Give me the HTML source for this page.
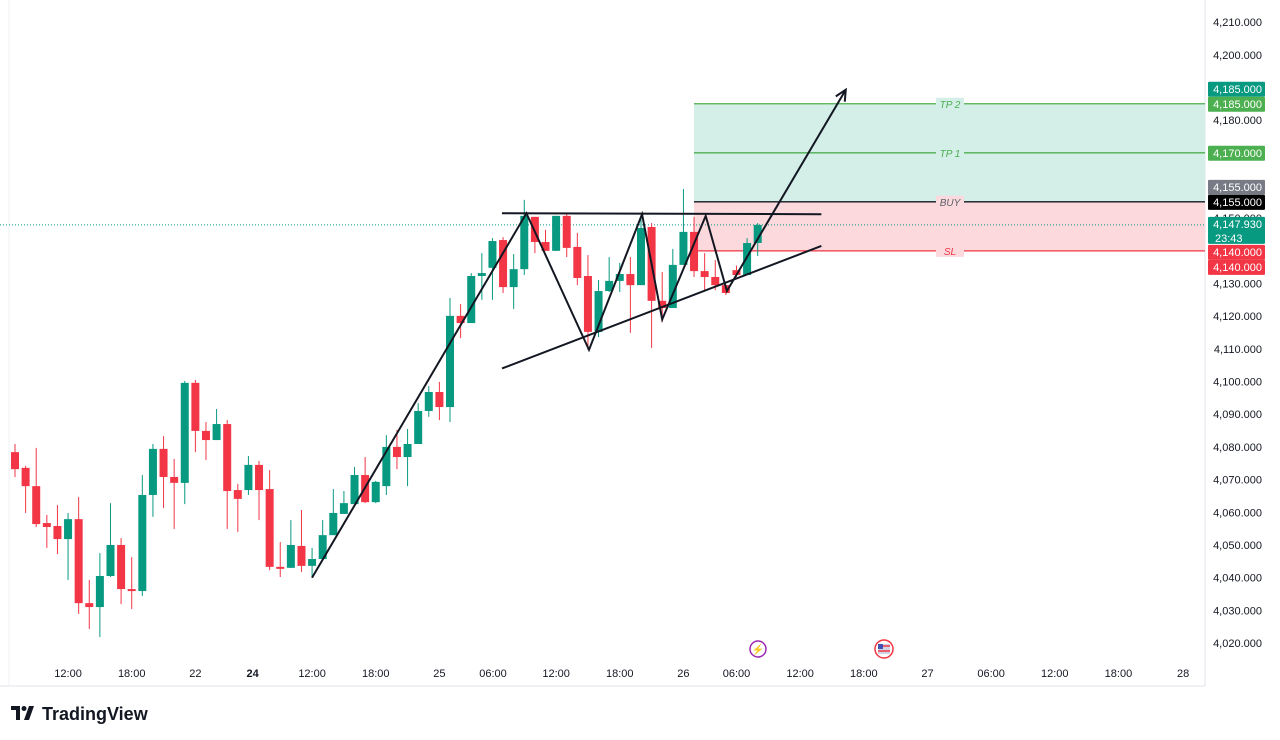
<!DOCTYPE html>
<html><head><meta charset="utf-8"><style>
body{margin:0;background:#fff;width:1280px;height:740px;overflow:hidden;font-family:"Liberation Sans",sans-serif}
svg{position:absolute;left:0;top:0}
</style></head><body>
<svg id="c" width="1280" height="740"></svg>
<script>
const candleOpen=[4078.4,4073.6,4068.0,4056.7,4055.8,4051.8,4057.9,4032.2,4031.0,4040.5,4050.0,4036.5,4035.9,4065.3,4079.4,4070.8,4069.0,4099.6,4084.9,4082.1,4087.0,4066.8,4066.8,4074.5,4067.1,4043.3,4043.0,4049.7,4043.6,4045.7,4053.0,4059.5,4062.5,4071.4,4063.1,4068.0,4080.0,4076.9,4080.9,4091.0,4096.8,4092.2,4120.1,4117.9,4132.3,4134.8,4143.3,4128.9,4134.4,4150.4,4142.7,4140.0,4150.7,4141.2,4132.3,4115.2,4127.7,4130.8,4132.9,4129.5,4147.3,4124.7,4122.5,4135.7,4145.8,4133.8,4132.0,4129.5,4134.1,4132.6,4142.4];
const candleHigh=[4080.9,4074.2,4079.7,4059.2,4062.2,4059.8,4064.7,4039.3,4047.5,4062.8,4052.1,4046.3,4071.4,4080.9,4083.3,4076.3,4100.2,4100.5,4087.6,4091.6,4088.2,4068.7,4077.2,4075.7,4072.9,4050.9,4057.6,4060.7,4049.1,4057.6,4067.1,4066.5,4073.9,4076.9,4069.6,4083.6,4085.2,4085.5,4093.4,4098.6,4099.9,4125.6,4123.7,4133.2,4139.3,4143.9,4144.2,4139.0,4155.6,4150.4,4146.4,4150.7,4151.6,4145.5,4138.7,4131.1,4138.1,4136.3,4138.1,4150.4,4148.5,4133.5,4140.6,4158.9,4150.4,4139.3,4137.2,4129.5,4135.5,4143.9,4148.5];
const candleLow=[4070.8,4059.8,4055.5,4049.1,4047.2,4039.3,4028.9,4024.3,4021.8,4040.2,4031.9,4030.4,4034.4,4058.6,4061.3,4054.9,4062.5,4078.4,4076.0,4082.1,4054.9,4054.0,4065.3,4057.6,4042.3,4040.2,4043.0,4041.7,4039.9,4045.7,4053.0,4059.5,4062.5,4062.8,4062.8,4065.3,4073.2,4068.0,4080.9,4089.2,4088.2,4087.6,4113.3,4117.9,4125.0,4125.0,4127.1,4122.2,4132.6,4139.3,4140.0,4140.0,4138.1,4129.5,4109.7,4113.6,4127.4,4127.4,4114.9,4129.5,4110.3,4118.2,4122.5,4135.7,4132.0,4128.0,4128.0,4126.5,4132.0,4132.6,4138.4];
const candleClose=[4073.2,4068.0,4056.4,4055.5,4051.8,4057.9,4032.2,4031.0,4040.5,4050.0,4036.5,4035.9,4065.3,4079.4,4070.8,4069.0,4099.6,4084.9,4082.1,4087.0,4066.5,4064.1,4074.5,4066.8,4043.3,4043.0,4050.0,4043.6,4045.7,4053.0,4059.8,4062.8,4071.4,4063.1,4069.3,4080.0,4076.9,4080.9,4091.0,4096.8,4092.2,4120.1,4117.9,4132.3,4133.2,4143.0,4128.9,4134.4,4150.7,4142.7,4140.0,4150.7,4140.9,4131.7,4115.2,4127.7,4130.8,4132.9,4129.5,4147.0,4124.7,4122.5,4135.7,4145.8,4133.8,4132.0,4129.5,4127.1,4132.6,4142.4,4147.93];
const priceTicks=[4210,4200,4190,4180,4170,4160,4150,4130,4120,4110,4100,4090,4080,4070,4060,4050,4040,4030,4020];
const timeLabels=["12:00","18:00","22","24","12:00","18:00","25","06:00","12:00","18:00","26","06:00","12:00","18:00","27","06:00","12:00","18:00","28"];
const timeIdx=[5,11,17,22.4,28,34,40,45.05,51,57,63,68,74,80,86,92,98,104,110.1];
const tp2=4185,tp1=4170,entry=4155,sl=4140,lastPrice=4147.93;
// annotations: [barIndex, price]
const zigzag=[[28,4040],[48.2,4151.5],[54.1,4109.7],[59.1,4151.2],[61,4119],[65.1,4150.7],[67.1,4127.7],[78.3,4189.3]];
const resistance=[[45.9,4151.5],[76,4151.2]];
const support=[[45.9,4104],[76,4141.5]];

const S='http://www.w3.org/2000/svg',svg=document.getElementById('c');
const X=i=>15+i*10.61, Y=p=>643-(p-4020)*3.268;
function el(t,a,txt,parent){const e=document.createElementNS(S,t);for(const k in a)e.setAttribute(k,a[k]);if(txt!=null)e.textContent=txt;(parent||svg).appendChild(e);return e;}
el('line',{x1:0,y1:686,x2:1205,y2:686,stroke:'#e0e3eb'});
el('line',{x1:1205,y1:0,x2:1205,y2:686,stroke:'#e0e3eb'});
el('line',{x1:9,y1:0,x2:9,y2:686,stroke:'#eef0f3'});
// position zones
const x0=694,x1=1205;
let z=el('rect',{x:x0,y:Y(tp2),width:x1-x0,height:Y(entry)-Y(tp2),fill:'#d4eee8'});

z=el('rect',{x:x0,y:Y(entry),width:x1-x0,height:Y(sl)-Y(entry),fill:'#fbd9dc'});

[[tp2,'#4caf50','TP 2'],[tp1,'#4caf50','TP 1'],[entry,'#131722','BUY'],[sl,'#f23645','SL']].forEach(([p,c,t])=>{
 let l=el('line',{x1:x0,y1:Y(p),x2:x1,y2:Y(p),stroke:c,'stroke-width':1.3});
 
 let b=el('rect',{x:936,y:Y(p)-6,width:28,height:12,fill:c==='#131722'?'#fbd9dc':(c==='#f23645'?'#fbd9dc':'#d4eee8')});
 let tx=el('text',{x:950,y:Y(p)+4,'text-anchor':'middle','font-size':10,'font-style':'italic',fill:c==='#131722'?'#5d606b':c},t);
 
});
// current price dotted line
let cp=el('line',{x1:0,y1:Y(lastPrice),x2:1205,y2:Y(lastPrice),stroke:'#089981','stroke-dasharray':'1 2'});

// candles
for(let i=0;i<candleOpen.length;i++){
 const o=candleOpen[i],c=candleClose[i],up=c>=o,col=up?'#089981':'#f23645',x=X(i);
 const g=el('g',{});
 
 el('line',{x1:x,y1:Y(candleHigh[i]),x2:x,y2:Y(candleLow[i]),stroke:col,'stroke-width':1},null,g);
 const t=Y(Math.max(o,c)),h=Math.max(2,Math.abs(Y(o)-Y(c)));
 el('rect',{x:x-4,y:t,width:8,height:h,fill:col},null,g);
}
// drawings
function poly(pts,name){const p=el('polyline',{points:pts.map(q=>X(q[0])+','+Y(q[1])).join(' '),fill:'none',stroke:'#131722','stroke-width':2});return p;}
poly(zigzag,'zigzag-projection');poly(resistance,'resistance-line');poly(support,'support-trendline');
const a=zigzag[zigzag.length-1],b=zigzag[zigzag.length-2];
const ax=X(a[0]),ay=Y(a[1]),ang=Math.atan2(ay-Y(b[1]),ax-X(b[0]));
let ah=el('polyline',{points:`${ax-12*Math.cos(ang-0.45)},${ay-12*Math.sin(ang-0.45)} ${ax},${ay} ${ax-12*Math.cos(ang+0.45)},${ay-12*Math.sin(ang+0.45)}`,fill:'none',stroke:'#131722','stroke-width':2});

// price axis
priceTicks.forEach(p=>{const t=el('text',{x:1262,y:Y(p)+4,'text-anchor':'end','font-size':11,fill:'#131722'},p.toLocaleString('en-US')+'.000');
 });
function badge(p,col,txt,dy,h,name,sub){const g=el('g',{});
 const yc=Y(p)+dy;el('rect',{x:1208,y:yc-7,width:57,height:h,fill:col,rx:1},null,g);
 el('text',{x:1262,y:yc+4,'text-anchor':'end','font-size':11,fill:'#fff'},txt,g);
 if(sub)el('text',{x:1215,y:yc+18,'font-size':11,fill:'#fff'},sub,g);}
badge(tp2,'#089981','4,185.000',-15,15,'tp2-price-badge');
badge(tp2,'#4caf50','4,185.000',0,15,'tp2-level-badge');
badge(tp1,'#4caf50','4,170.000',0,15,'tp1-badge');
badge(entry,'#787b86','4,155.000',-15,15,'entry-price-badge');
badge(entry,'#000000','4,155.000',0,15,'entry-level-badge');
badge(lastPrice,'#089981','4,147.930',-1,27,'last-price-badge','23:43');
badge(sl,'#f23645','4,140.000',1,15,'sl-price-badge');
badge(sl,'#f23645','4,140.000',16,15,'sl-level-badge');
// time axis
timeLabels.forEach((t,i)=>{const e=el('text',{x:X(timeIdx[i]),y:677,'text-anchor':'middle','font-size':11,fill:'#131722','font-weight':t==='24'?'bold':'normal'},t);
 });
// event icons
let ev=el('g',{});
el('circle',{cx:758,cy:649,r:8,fill:'#fff',stroke:'#9c27b0','stroke-width':1.5},null,ev);
el('text',{x:758,y:653,'text-anchor':'middle','font-size':10,fill:'#9c27b0'},'⚡',ev);
ev=el('g',{});
el('circle',{cx:884,cy:649,r:9,fill:'#fff',stroke:'#f23645','stroke-width':1.5},null,ev);
el('rect',{x:878,y:644,width:12,height:10,fill:'#d0d6e8'},null,ev);
el('rect',{x:878,y:644,width:5,height:5,fill:'#3f51b5'},null,ev);
el('line',{x1:883,y1:646,x2:890,y2:646,stroke:'#f23645','stroke-width':1.5},null,ev);
el('line',{x1:878,y1:651,x2:890,y2:651,stroke:'#f23645','stroke-width':1.5},null,ev);
// logo
let lg=el('g',{});
el('path',{d:'M11 706h9v14h-4v-10h-5z M24 706a2.5 2.5 0 1 0 0.01 0 M29 706h5l-5 14h-5z',fill:'#131722'},null,lg);
el('text',{x:42,y:720,'font-size':18,'font-weight':'bold',fill:'#131722'},'TradingView',lg);
</script>
</body></html>
